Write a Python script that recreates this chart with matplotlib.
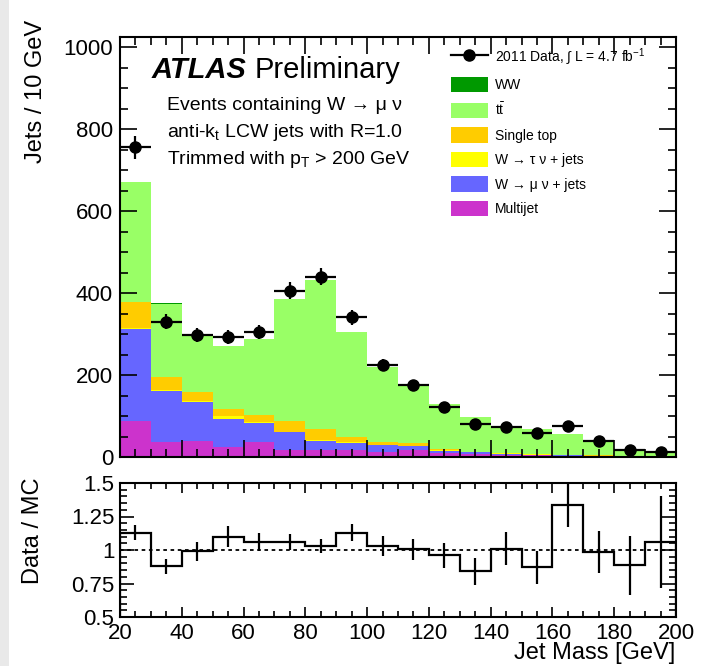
import numpy as np
import matplotlib
matplotlib.use("Agg")
import matplotlib.pyplot as plt
from matplotlib.patches import Patch, Rectangle
from matplotlib.lines import Line2D
from matplotlib.ticker import MultipleLocator

plt.rcParams['font.family'] = ['Liberation Sans', 'DejaVu Sans']
plt.rcParams['mathtext.fontset'] = 'custom'
plt.rcParams['mathtext.rm'] = 'Liberation Sans'
plt.rcParams['mathtext.it'] = 'Liberation Sans:italic'
plt.rcParams['mathtext.bf'] = 'Liberation Sans:bold'

# ---- binning (GeV) ----
edges = np.arange(20, 201, 10)

# ---- MC components, bottom to top of the stack ----
multijet = [87, 36, 40, 24, 36, 18, 16, 16, 12, 17, 9, 8, 5, 4, 2, 2, 1, 1]
w_munu   = [225, 124, 94, 69, 47, 42, 23, 19, 17, 10, 6, 3, 3, 2, 2, 1, 1, 1]
w_taunu  = [3, 3, 2, 6, 2, 2, 2, 1, 1, 1, 1, 1, 1, 1, 0.5, 0.5, 0.3, 0.2]
single_top = [64, 32, 23, 18, 17, 25, 28, 12, 6, 7, 3, 1, 1, 1, 0.5, 0.5, 0.7, 0.3]
ttbar    = [291, 179, 140, 154, 186, 298, 362, 256, 183, 139, 111, 84, 61, 60, 51, 35, 16.5, 8]
ww       = [1, 1, 1, 1, 1, 1, 1, 1, 1, 1, 0.5, 0.5, 0.5, 0.5, 0.5, 0.5, 0.5, 0.5]

# ---- data ----
data     = [756, 330, 298, 293, 306, 406, 440, 341, 224, 175, 123, 80, 73, 59, 76, 38, 17, 12]
data_err = [28, 18, 17, 17, 17, 20, 21, 18, 15, 13, 11, 9, 9, 8, 9, 6, 4, 3.5]

# ---- data / MC ----
ratio     = [1.13, 0.88, 0.99, 1.10, 1.06, 1.06, 1.03, 1.13, 1.03, 1.005, 0.96, 0.84, 1.01, 0.87, 1.335, 0.985, 0.885, 1.06]
ratio_err = [0.054, 0.056, 0.07, 0.08, 0.07, 0.06, 0.05, 0.065, 0.074, 0.08, 0.094, 0.10, 0.125, 0.12, 0.166, 0.16, 0.22, 0.34]

components = [
    ("Multijet", multijet, "#cc33cc"),
    ("W \u2192 \u03bc \u03bd + jets", w_munu, "#6666ff"),
    ("W \u2192 \u03c4 \u03bd + jets", w_taunu, "#ffff00"),
    ("Single top", single_top, "#ffcc00"),
    (r"t$\bar{\mathrm{t}}$", ttbar, "#99ff66"),
    ("WW", ww, "#009900"),
]

W, H = 711, 666
fig = plt.figure(figsize=(W / 100, H / 100), dpi=100)
fig.add_artist(Rectangle((0, 0), 9 / W, 1, transform=fig.transFigure,
                         color="#e9e9e9", lw=0, zorder=-5))

ax = fig.add_axes([120 / W, 1 - 457 / H, 556 / W, 420 / H])
rax = fig.add_axes([120 / W, 1 - 617 / H, 556 / W, 134 / H])

# ---- stacked histogram ----
bottom = np.zeros(len(edges) - 1)
for name, vals, col in components:
    vals = np.array(vals, dtype=float)
    ax.stairs(bottom + vals, edges, baseline=bottom.copy(), fill=True,
              color=col, lw=0)
    bottom = bottom + vals

centers = 0.5 * (edges[:-1] + edges[1:])
ax.errorbar(centers, data, yerr=data_err, xerr=5, fmt="o", color="k",
            ms=8, elinewidth=1.6, capsize=0, zorder=5)

ax.set_xlim(20, 200)
ax.set_ylim(0, 1025)
ax.yaxis.set_major_locator(MultipleLocator(200))
ax.yaxis.set_minor_locator(MultipleLocator(50))
ax.xaxis.set_major_locator(MultipleLocator(20))
ax.xaxis.set_minor_locator(MultipleLocator(5))
ax.tick_params(which="both", direction="in", top=True, right=True,
               labelsize=16, width=1.2, pad=5)
ax.tick_params(which="major", length=12)
ax.tick_params(which="minor", length=6)
ax.tick_params(axis="x", labelbottom=False)
for s in ax.spines.values():
    s.set_linewidth(1.5)

# ---- texts ----
ax.text((152 - 120) / 556, (457 - 78) / 420, "ATLAS", transform=ax.transAxes,
        fontsize=21, fontweight="bold", fontstyle="italic", va="baseline")
ax.text((255 - 120) / 556, (457 - 78) / 420, "Preliminary",
        transform=ax.transAxes, fontsize=21, va="baseline")
ax.text((167 - 120) / 556, (457 - 110) / 420,
        "Events containing W \u2192 \u03bc \u03bd",
        transform=ax.transAxes, fontsize=14, va="baseline")
ax.text((167 - 120) / 556, (457 - 137) / 420,
        r"anti-$\mathrm{k}_{\mathrm{t}}$ LCW jets with R=1.0",
        transform=ax.transAxes, fontsize=14, va="baseline")
ax.text((167 - 120) / 556, (457 - 164) / 420,
        r"Trimmed with $\mathrm{p}_{\mathrm{T}}$ > 200 GeV",
        transform=ax.transAxes, fontsize=14, va="baseline")

# ---- legend ----
handles = [Line2D([], [], color="k", marker="o", ms=8, lw=1.6)]
labels = [r"2011 Data, $\int$ L = 4.7 fb$^{-1}$"]
for name, vals, col in components[::-1]:
    handles.append(Patch(facecolor=col, edgecolor="none"))
    labels.append(name)
ax.legend(handles, labels, loc="upper left",
          bbox_to_anchor=((451 - 120) / 556, (457 - 46) / 420),
          frameon=False, fontsize=10, borderpad=0, borderaxespad=0,
          handlelength=2.66, handleheight=1.3, labelspacing=0.67,
          handletextpad=0.5, numpoints=1)

# ---- ratio panel ----
rax.stairs(ratio, edges, color="k", lw=1.6)
rax.errorbar(centers, ratio, yerr=ratio_err, fmt="none", ecolor="k",
             elinewidth=1.6, capsize=0)
rax.axhline(1, color="k", lw=1.3, ls=(0, (2, 2)))
rax.set_xlim(20, 200)
rax.set_ylim(0.5, 1.5)
rax.set_yticks([0.5, 0.75, 1, 1.25, 1.5])
rax.set_yticklabels(["0.5", "0.75", "1", "1.25", "1.5"])
rax.yaxis.set_minor_locator(MultipleLocator(0.05))
rax.xaxis.set_major_locator(MultipleLocator(20))
rax.xaxis.set_minor_locator(MultipleLocator(5))
rax.tick_params(which="both", direction="in", top=True, right=True,
                labelsize=16, width=1.2, pad=4)
rax.tick_params(axis="y", which="major", length=10)
rax.tick_params(axis="y", which="minor", length=5)
rax.tick_params(axis="x", which="major", length=7)
rax.tick_params(axis="x", which="minor", length=4)
for s in rax.spines.values():
    s.set_linewidth(1.5)

fig.text(36 / W, 1 - 20 / H, "Jets / 10 GeV", rotation=90, ha="center",
         va="top", fontsize=17)
fig.text(33 / W, 1 - 478 / H, "Data / MC", rotation=90, ha="center",
         va="top", fontsize=17)
fig.text(675 / W, 2 / H, "Jet Mass [GeV]", ha="right", va="bottom",
         fontsize=17)

fig.savefig("out.png", dpi=100)
